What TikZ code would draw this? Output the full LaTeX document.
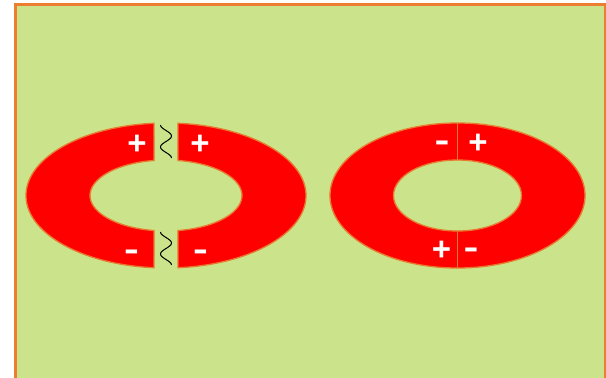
\documentclass[tikz,border=0pt]{standalone}
\usepackage{fontspec}
\setmainfont{Liberation Sans}
\usetikzlibrary{calc}
\definecolor{bg}{RGB}{203,227,138}
\definecolor{frame}{RGB}{237,125,49}
\definecolor{edge}{RGB}{232,122,48}
\definecolor{magred}{RGB}{255,0,0}
\tikzset{
  piece/.style={fill=magred, draw=edge, line width=1.3pt},
  sign/.style={text=white, font=\fontsize{33}{33}\selectfont\bfseries, inner sep=0pt},
  minus/.style={sign, xscale=1.35},
  wave/.style={draw=black, line width=1pt},
  divider/.style={draw=edge, line width=1.8pt}
}
\begin{document}
\begin{tikzpicture}[x=1pt,y=-1pt]
\useasboundingbox (0,0) rectangle (606,378);
\clip (0,0) rectangle (606,378);
\draw[fill=bg, draw=frame, line width=2.4pt] (15.5,4.5) rectangle (605,400);
% left ring
\coordinate (cl) at (166,195.5);
\path[piece] ($(cl)+(94.92:140 and 72.5)$) arc[start angle=94.92, end angle=265.08, x radius=140, y radius=72.5]
  -- ($(cl)+(260.92:76 and 35.5)$) arc[start angle=260.92, end angle=99.08, x radius=76, y radius=35.5] -- cycle;
\path[piece] ($(cl)+(85.08:140 and 72.5)$) arc[start angle=85.08, end angle=-85.08, x radius=140, y radius=72.5]
  -- ($(cl)+(-80.92:76 and 35.5)$) arc[start angle=-80.92, end angle=80.92, x radius=76, y radius=35.5] -- cycle;
\draw[wave] plot[domain=0:1, samples=60, smooth] ({166-5.5*cos(540*\x)},{125+33*\x});
\draw[wave] plot[domain=0:1, samples=60, smooth] ({166-5.5*cos(540*\x)},{232+33*\x});
\node[sign] (l1) at (137,145) {+};
\node[sign] (l2) at (200,145) {+};
\node[minus] (l3) at (131.5,255.5) {-};
\node[minus] (l4) at (200.5,255.5) {-};
% right ring
\coordinate (cr) at (457.5,195.5);
\path[piece, even odd rule] (cr) ellipse[x radius=127.5, y radius=72.5] (cr) ellipse[x radius=64, y radius=35.5];
\coordinate (t1) at (457.5,123); \coordinate (t2) at (457.5,160);
\coordinate (b1) at (457.5,231); \coordinate (b2) at (457.5,268);
\draw[divider] (t1) -- (t2);
\draw[divider] (b1) -- (b2);
\node[minus] (r1) at (442,146.5) {-};
\node[sign] (r2) at (478,144) {+};
\node[sign] (r3) at (441.5,251) {+};
\node[minus] (r4) at (471,253.5) {-};
\end{tikzpicture}
\end{document}
